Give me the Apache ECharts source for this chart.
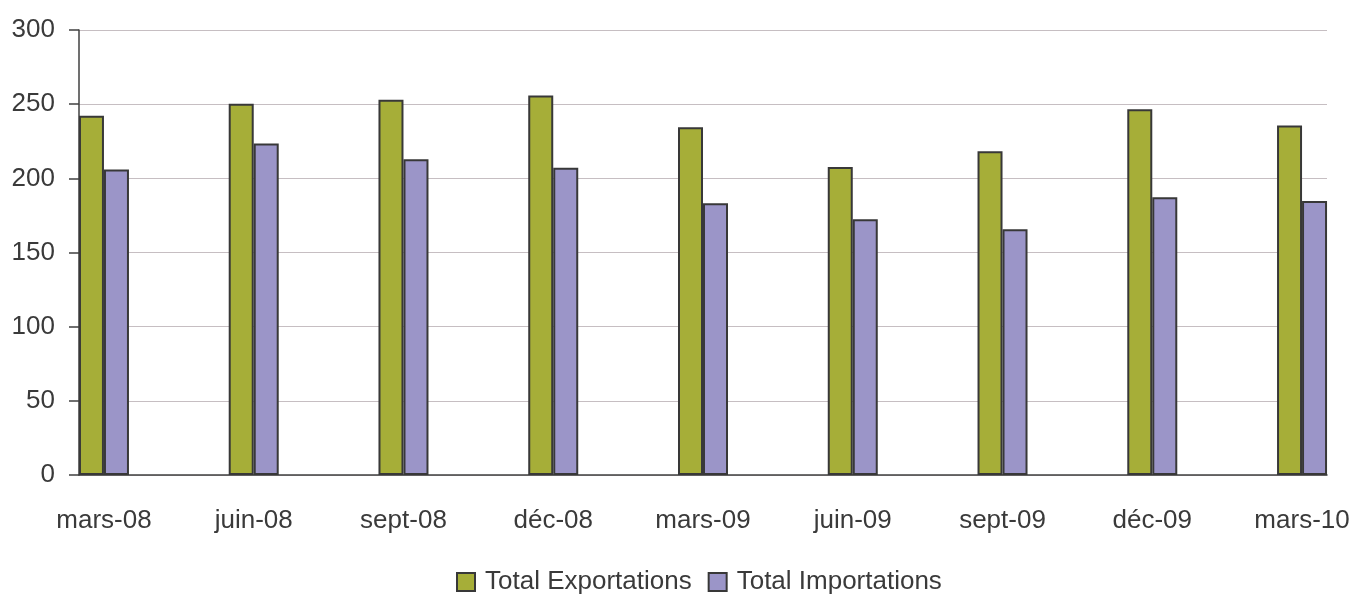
<!DOCTYPE html>
<html>
<head>
<meta charset="utf-8">
<script src="https://cdn.jsdelivr.net/npm/echarts@6/dist/echarts.min.js"></script>
<style>html,body{margin:0;padding:0;background:#fff;}#c{width:1354px;height:594px;}</style>
</head>
<body>
<div id="c"></div>
<script>
const categories = ['mars-08','juin-08','sept-08','déc-08','mars-09','juin-09','sept-09','déc-09','mars-10'];
const exportations = [242.2, 250.3, 253.0, 255.9, 234.5, 207.6, 218.2, 246.5, 235.7];
const importations = [205.9, 223.4, 212.8, 207.2, 183.2, 172.4, 165.7, 187.2, 184.7];
const yTicks = [0, 50, 100, 150, 200, 250, 300];

const FONT = "'Liberation Sans', Arial, sans-serif";
const TXT = '#3a3a3a';
const idx = categories.map((_, i) => i);

const chart = echarts.init(document.getElementById('c'), null, {renderer: 'canvas'});
chart.setOption({
  animation: false,
  backgroundColor: '#ffffff',
  grid: {left: 79, right: 27, top: 30, bottom: 119, containLabel: false, outerBoundsMode: 'none'},
  xAxis: {
    type: 'value',
    min: -1/6,
    max: categories.length - 1 + 1/6,
    splitLine: {show: false},
    axisLine: {show: true, onZero: false, lineStyle: {color: '#404040', width: 1.5}},
    axisTick: {show: false},
    axisLabel: {
      customValues: idx,
      formatter: v => categories[Math.round(v)],
      fontFamily: FONT, fontSize: 26, color: TXT, margin: 33
    }
  },
  yAxis: {
    type: 'value',
    min: yTicks[0], max: yTicks[yTicks.length - 1], interval: 50,
    axisLine: {show: true, onZero: false, lineStyle: {color: '#404040', width: 1.5}},
    axisTick: {show: true, length: 10, lineStyle: {color: '#404040', width: 1.5}},
    splitLine: {show: true, lineStyle: {color: '#c6bec2', width: 1}},
    axisLabel: {fontFamily: FONT, fontSize: 26, color: TXT, margin: 24}
  },
  legend: {
    left: 456, top: 569, padding: 0,
    itemWidth: 18, itemHeight: 18, itemGap: 16,
    icon: 'rect',
    textStyle: {fontFamily: FONT, fontSize: 26, color: TXT, padding: [0, 0, 0, 5]},
    data: ['Total Exportations', 'Total Importations']
  },
  series: [
    {
      name: 'Total Exportations', type: 'bar', barWidth: 25, barGap: '0%',
      itemStyle: {color: '#a6ae38', borderColor: '#383838', borderWidth: 2},
      data: exportations.map((v, i) => [i, v])
    },
    {
      name: 'Total Importations', type: 'bar', barWidth: 25, barGap: '0%',
      itemStyle: {color: '#9b95c8', borderColor: '#383838', borderWidth: 2},
      data: importations.map((v, i) => [i, v])
    }
  ]
});
</script>
</body>
</html>
